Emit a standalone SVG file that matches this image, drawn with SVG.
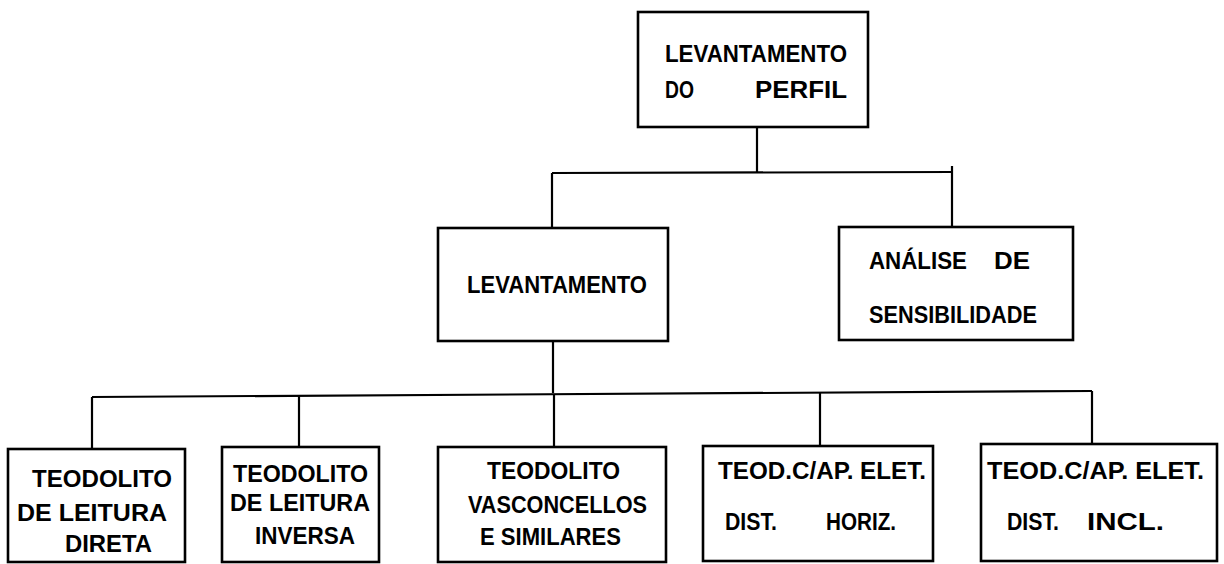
<svg xmlns="http://www.w3.org/2000/svg" width="1224" height="564" viewBox="0 0 1224 564">
<style>
.box{fill:#fff;stroke:#000;stroke-width:2.6}
.con{fill:none;stroke:#000;stroke-width:2.2}
text{font-family:"Liberation Sans",Arial,sans-serif;font-weight:bold;font-size:23px;fill:#000}
</style>
<rect width="1224" height="564" fill="#fff"/>
<g id="connectors">
<path class="con" d="M757 127 V172"/>
<path class="con" d="M552 173 L952 172"/>
<path class="con" d="M552 173 V228"/>
<path class="con" d="M952 166 V227"/>
<path class="con" d="M553 341 V393"/>
<path class="con" d="M92 397 L1092 391"/>
<path class="con" d="M92 397 V449"/>
<path class="con" d="M299 396 V447"/>
<path class="con" d="M554 394 V447"/>
<path class="con" d="M820 392 V446"/>
<path class="con" d="M1092 391 V444"/>
</g>
<g id="n-perfil">
<rect class="box" x="638" y="12" width="230" height="115"/>
<text x="665" y="62" textLength="182" lengthAdjust="spacingAndGlyphs">LEVANTAMENTO</text>
<text x="665" y="98" textLength="29" lengthAdjust="spacingAndGlyphs">DO</text>
<text x="755" y="98" textLength="92" lengthAdjust="spacingAndGlyphs">PERFIL</text>
</g>
<g id="n-levantamento">
<rect class="box" x="438" y="228" width="230" height="113"/>
<text x="467" y="293" textLength="180" lengthAdjust="spacingAndGlyphs">LEVANTAMENTO</text>
</g>
<g id="n-analise">
<rect class="box" x="839" y="227" width="234" height="113"/>
<text x="869" y="269" textLength="98" lengthAdjust="spacingAndGlyphs">ANÁLISE</text>
<text x="994" y="269" textLength="36" lengthAdjust="spacingAndGlyphs">DE</text>
<text x="869" y="323" textLength="168" lengthAdjust="spacingAndGlyphs">SENSIBILIDADE</text>
</g>
<g id="n-direta">
<rect class="box" x="8" y="449" width="177" height="113"/>
<text x="32" y="487" textLength="140" lengthAdjust="spacingAndGlyphs">TEODOLITO</text>
<text x="17" y="521" textLength="150" lengthAdjust="spacingAndGlyphs">DE LEITURA</text>
<text x="65" y="552" textLength="87" lengthAdjust="spacingAndGlyphs">DIRETA</text>
</g>
<g id="n-inversa">
<rect class="box" x="222" y="447" width="157" height="115"/>
<text x="233" y="482" textLength="135" lengthAdjust="spacingAndGlyphs">TEODOLITO</text>
<text x="230" y="511" textLength="140" lengthAdjust="spacingAndGlyphs">DE LEITURA</text>
<text x="255" y="544" textLength="100" lengthAdjust="spacingAndGlyphs">INVERSA</text>
</g>
<g id="n-vasconcellos">
<rect class="box" x="438" y="447" width="228" height="115"/>
<text x="487" y="479" textLength="133" lengthAdjust="spacingAndGlyphs">TEODOLITO</text>
<text x="468" y="513" textLength="179" lengthAdjust="spacingAndGlyphs">VASCONCELLOS</text>
<text x="480" y="545" textLength="141" lengthAdjust="spacingAndGlyphs">E SIMILARES</text>
</g>
<g id="n-horiz">
<rect class="box" x="703" y="446" width="230" height="115"/>
<text x="718" y="479" textLength="208" lengthAdjust="spacingAndGlyphs">TEOD.C/AP. ELET.</text>
<text x="725" y="530" textLength="52" lengthAdjust="spacingAndGlyphs">DIST.</text>
<text x="826" y="530" textLength="70" lengthAdjust="spacingAndGlyphs">HORIZ.</text>
</g>
<g id="n-incl">
<rect class="box" x="981" y="444" width="236" height="117"/>
<text x="987" y="479" textLength="217" lengthAdjust="spacingAndGlyphs">TEOD.C/AP. ELET.</text>
<text x="1007" y="530" textLength="52" lengthAdjust="spacingAndGlyphs">DIST.</text>
<text x="1087" y="530" textLength="77" lengthAdjust="spacingAndGlyphs">INCL.</text>
</g>
</svg>
